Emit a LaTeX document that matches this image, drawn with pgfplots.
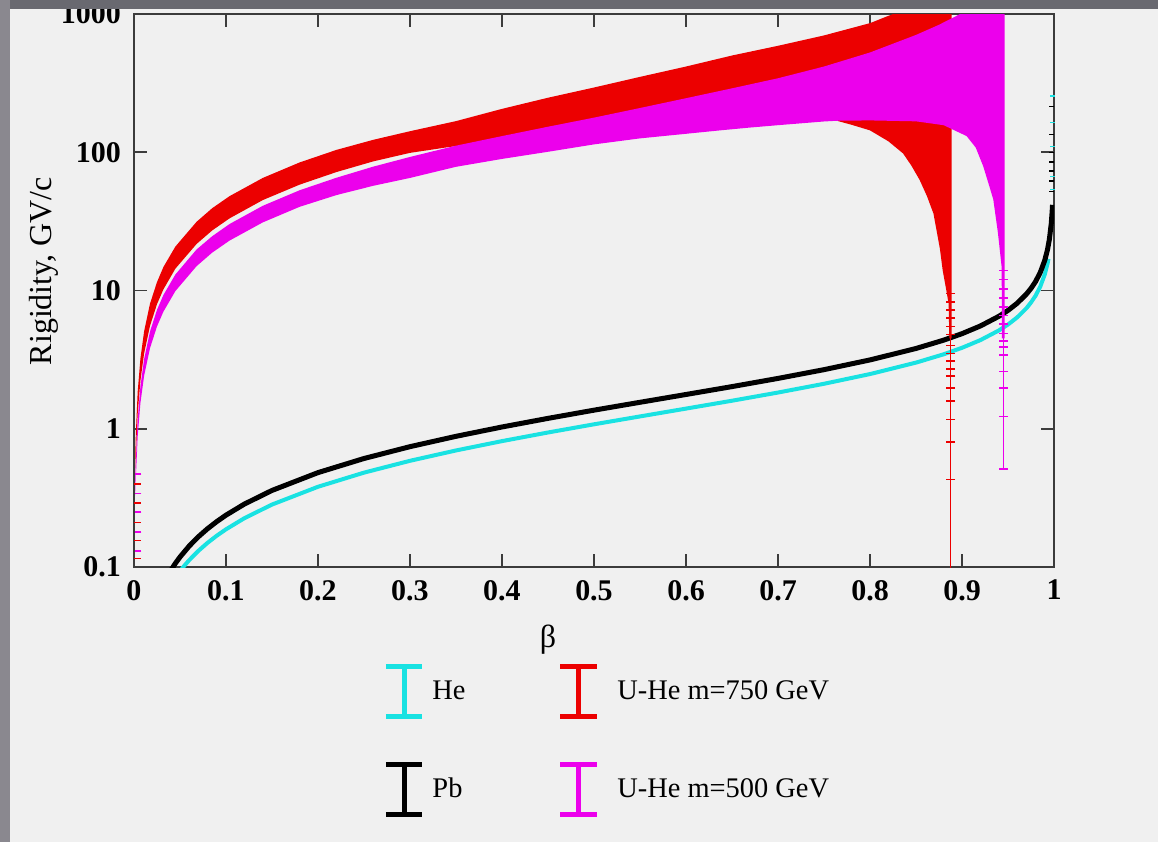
\documentclass[border=0pt]{standalone}
\usepackage{fontspec}
\setmainfont{Liberation Serif}
\usepackage{pgfplots}
\usepackage{pgfplotstable}
\pgfplotsset{compat=1.18}
\definecolor{bglight}{RGB}{240,240,240}
\definecolor{topgray}{RGB}{105,105,112}
\definecolor{sidegray}{RGB}{138,136,143}
\definecolor{axisgray}{RGB}{60,60,60}
\definecolor{myred}{RGB}{236,0,0}
\definecolor{mymag}{RGB}{236,0,236}
\definecolor{mycyan}{RGB}{25,226,226}

\pgfplotstableread{
x y
0.0015 0.69
0.002 0.92
0.004 1.85
0.007 3.23
0.011 5.07
0.0174 8.03
0.025 11.5
0.032 14.8
0.045 20.8
0.068 31.4
0.085 39.4
0.104 48.2
0.14 65.2
0.18 84.4
0.22 104
0.26 123
0.30 142
0.35 168
0.40 206
0.45 248
0.50 294
0.55 351
0.60 417
0.65 501
0.70 589
0.75 700
0.80 859
0.825 1000
0.84 1150
0.8886 1600
0.8886 4.5
0.8862 4.5
0.8855 8
0.883 10
0.879 14
0.876 20
0.872 28
0.869 36
0.862 48
0.854 63
0.845 80
0.836 98
0.82 120
0.80 144
0.78 158
0.764 169
0.70 176
0.60 157
0.50 141
0.40 121
0.36 113
0.34 108.5
0.30 99
0.26 85.9
0.22 71.9
0.18 58.3
0.14 45.1
0.104 33.3
0.085 27.2
0.068 21.7
0.045 14.4
0.032 10.2
0.025 7.97
0.0174 5.55
0.011 3.51
0.007 2.23
0.004 1.28
0.002 0.64
0.0015 0.48
}\redband

\pgfplotstableread{
x y
0.0015 0.435
0.002 0.58
0.004 1.16
0.007 2.03
0.011 3.19
0.0174 5.05
0.025 7.25
0.032 9.28
0.045 13.06
0.068 19.8
0.085 24.7
0.104 30.3
0.14 41.0
0.18 53.1
0.22 65.4
0.26 78.7
0.30 92.5
0.35 111.6
0.40 130.9
0.45 153
0.50 178
0.55 209
0.60 246
0.65 290
0.70 343
0.75 417
0.80 527
0.85 706
0.875 836
0.898 1000
0.92 1230
0.9462 1600
0.9462 4.5
0.9434 4.5
0.9432 11
0.943 15
0.939 26.3
0.934 45.6
0.93 56
0.923 79.5
0.915 108
0.905 131
0.88 157
0.85 167.4
0.80 170
0.764 169
0.75 167
0.70 157
0.67 151
0.637 144
0.60 136
0.55 126
0.50 114
0.45 100.8
0.40 89.5
0.35 78.5
0.30 65.2
0.26 57.2
0.22 49.0
0.18 40.3
0.14 31.1
0.104 23.0
0.085 18.8
0.068 15.0
0.045 9.91
0.032 7.04
0.025 5.5
0.0174 3.83
0.011 2.42
0.007 1.54
0.004 0.88
0.002 0.44
0.0015 0.33
}\magband

\pgfplotstableread{
x y
0.05 0.0934
0.055 0.1027
0.06 0.1121
0.07 0.1309
0.08 0.1497
0.09 0.1685
0.1 0.1874
0.12 0.2255
0.15 0.2829
0.2 0.3806
0.25 0.4815
0.3 0.5865
0.35 0.6968
0.4 0.8139
0.45 0.9398
0.5 1.077
0.55 1.228
0.6 1.399
0.65 1.595
0.7 1.828
0.75 2.115
0.8 2.487
0.85 3.009
0.88 3.456
0.9 3.851
0.92 4.378
0.94 5.138
0.95 5.674
0.96 6.394
0.97 7.442
0.975 8.190
0.98 9.185
0.985 10.64
0.99 13.09
0.993 15.68
0.994 16.95
}\hedata

\pgfplotstableread{
x y
0.04 0.0945
0.045 0.1063
0.05 0.1181
0.06 0.1418
0.07 0.1656
0.08 0.1894
0.09 0.2132
0.1 0.2372
0.12 0.2853
0.15 0.358
0.2 0.4817
0.25 0.6094
0.3 0.7422
0.35 0.8817
0.4 1.030
0.45 1.189
0.5 1.363
0.55 1.554
0.6 1.770
0.65 2.018
0.7 2.313
0.75 2.676
0.8 3.147
0.85 3.808
0.88 4.373
0.9 4.873
0.92 5.540
0.94 6.502
0.95 7.180
0.96 8.091
0.97 9.417
0.975 10.36
0.98 11.62
0.985 13.46
0.99 16.56
0.993 19.84
0.995 23.51
0.997 30.40
0.998 37.26
0.9984 41.67
}\pbdata

\begin{document}
\begin{tikzpicture}
\path[use as bounding box] (-67pt,-137.5pt) rectangle (512pt,283.5pt);
\fill[bglight] (-67pt,-137.5pt) rectangle (512pt,283.5pt);
\begin{axis}[
  scale only axis,
  width=460pt, height=276.5pt,
  xmin=0, xmax=1, ymin=0.1, ymax=1000,
  ymode=log,
  xtick={0,0.1,0.2,0.3,0.4,0.5,0.6,0.7,0.8,0.9,1},
  xticklabels={0,0.1,0.2,0.3,0.4,0.5,0.6,0.7,0.8,0.9,1},
  ytick={0.1,1,10,100,1000},
  yticklabels={0.1,1,10,100,1000},
  yminorticks=false, xminorticks=false,
  tick align=inside,
  major tick length=6.5pt,
  axis line style={line width=0.9pt, axisgray},
  every tick/.style={line width=0.9pt, axisgray},
  /pgf/number format/assume math mode=true,
  tick label style={font=\fontsize{15}{17}\selectfont\bfseries},
  xticklabel style={yshift=-3pt},
  yticklabel style={xshift=-3pt},
  xlabel={β},
  ylabel={Rigidity, GV/c},
  label style={font=\fontsize{16}{19}\selectfont},
  xlabel style={at={(axis description cs:0.45,-0.131)}, anchor=center},
  ylabel style={at={(axis description cs:-0.0978,0.535)}, anchor=center},
  legend columns=2,
  legend cell align=left,
  legend style={at={(axis description cs:0.2707,-0.1754)}, anchor=north west,
    draw=none, fill=none, inner sep=0pt,
    font=\fontsize{14.2}{16.5}\selectfont, row sep=21.3pt,
    /tikz/column 1/.style={column sep=1.8pt},
    /tikz/column 2/.style={column sep=44pt},
    /tikz/column 3/.style={column sep=7.2pt}},
]
% He and Pb
\addplot[mycyan, line width=2pt, forget plot] table[x=x,y=y] {\hedata};
\addplot[black, line width=2.5pt, forget plot] table[x=x,y=y] {\pbdata};
\addplot[only marks, mark=-, mark size=1.3pt, mark options={line width=0.7pt}, black, forget plot]
  coordinates {(0.997,52) (0.997,62) (0.997,73) (0.997,85) (0.997,100) (0.997,135) (0.997,215)};
\addplot[only marks, mark=-, mark size=1.3pt, mark options={line width=0.7pt}, mycyan, forget plot]
  coordinates {(0.998,54) (0.998,67) (0.998,110) (0.998,165) (0.998,255)};
% U-He bands
\addplot[fill=myred, draw=none, forget plot] table[x=x,y=y] {\redband} -- cycle;
\addplot[myred, line width=0.7pt, forget plot] coordinates {(0.8874,0.05) (0.8874,6)};
\addplot[only marks, mark=-, mark size=2.3pt, mark options={line width=0.8pt}, myred, forget plot]
  coordinates {(0.8874,9.5) (0.8874,8.3) (0.8874,7.2) (0.8874,6.3) (0.8874,5.5) (0.8874,4.8)
  (0.8874,4.0) (0.8874,3.5) (0.8874,3.1) (0.8874,2.7) (0.8874,2.4) (0.8874,1.97)
  (0.8874,1.58) (0.8874,1.17) (0.8874,0.80) (0.8874,0.43)};
\addplot[only marks, mark=-, mark size=1.6pt, mark options={line width=0.8pt}, myred, forget plot]
  coordinates {(0.004,0.115) (0.004,0.155) (0.004,0.21) (0.004,0.29) (0.004,0.4)};
\addplot[fill=mymag, draw=none, forget plot] table[x=x,y=y] {\magband} -- cycle;
\addplot[mymag, line width=0.7pt, forget plot] coordinates {(0.9448,0.51) (0.9448,6)};
\addplot[only marks, mark=-, mark size=2.3pt, mark options={line width=0.8pt}, mymag, forget plot]
  coordinates {(0.9448,14) (0.9448,12) (0.9448,10.3) (0.9448,8.8) (0.9448,7.6) (0.9448,6.6)
  (0.9448,5.7) (0.9448,4.9) (0.9448,4.3) (0.9448,3.9) (0.9448,3.4) (0.9448,2.6)
  (0.9448,1.97) (0.9448,1.23) (0.9448,0.51)};
\addplot[only marks, mark=-, mark size=1.6pt, mark options={line width=0.8pt}, mymag, forget plot]
  coordinates {(0.0045,0.13) (0.0045,0.18) (0.0045,0.25) (0.0045,0.34) (0.0045,0.47)};
% legend
\addlegendimage{legend image code/.code={\draw[mycyan,line width=2.5pt] (0.32cm,-0.44cm)--(0.32cm,0.44cm) (0cm,0.44cm)--(0.64cm,0.44cm) (0cm,-0.44cm)--(0.64cm,-0.44cm);}}
\addlegendentry{He}
\addlegendimage{legend image code/.code={\draw[myred,line width=2.5pt] (0.32cm,-0.44cm)--(0.32cm,0.44cm) (0cm,0.44cm)--(0.64cm,0.44cm) (0cm,-0.44cm)--(0.64cm,-0.44cm);}}
\addlegendentry{U-He m=750 GeV}
\addlegendimage{legend image code/.code={\draw[black,line width=2.5pt] (0.32cm,-0.44cm)--(0.32cm,0.44cm) (0cm,0.44cm)--(0.64cm,0.44cm) (0cm,-0.44cm)--(0.64cm,-0.44cm);}}
\addlegendentry{Pb}
\addlegendimage{legend image code/.code={\draw[mymag,line width=2.5pt] (0.32cm,-0.44cm)--(0.32cm,0.44cm) (0cm,0.44cm)--(0.64cm,0.44cm) (0cm,-0.44cm)--(0.64cm,-0.44cm);}}
\addlegendentry{U-He m=500 GeV}
\end{axis}
\fill[topgray] (-67pt,279pt) rectangle (512pt,283.5pt);
\fill[sidegray] (-67pt,-137.5pt) rectangle (-62pt,283.5pt);
\end{tikzpicture}
\end{document}
